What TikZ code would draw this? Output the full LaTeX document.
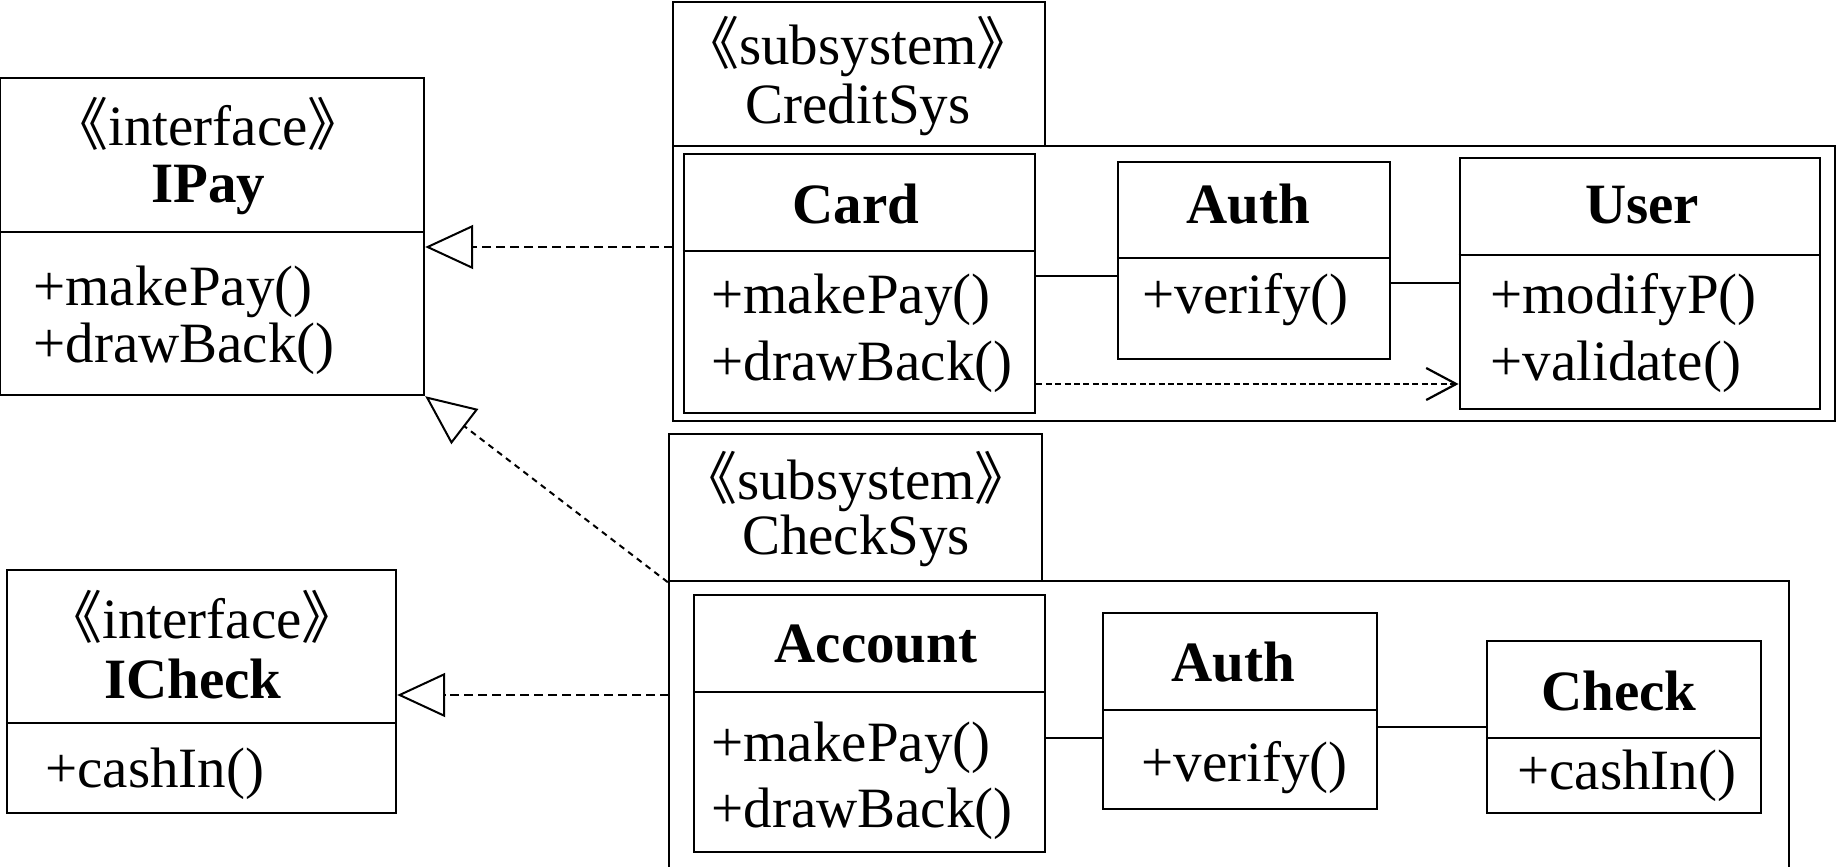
\documentclass[tikz,border=0pt]{standalone}
\usepackage{fontspec}
\setmainfont{Liberation Serif}
\newfontfamily\cjkfont{Noto Sans CJK SC}
\usetikzlibrary{arrows.meta,fit}
\newcommand{\stereo}[1]{{\cjkfont 《}#1{\cjkfont 》}}
\tikzset{
  box/.style={draw, line width=1.2pt, inner sep=0pt},
  boldbox/.style={draw, line width=1.45pt, inner sep=0pt},
  txt/.style={inner sep=0pt, font=\fontsize{28.5pt}{30pt}\selectfont},
  ttl/.style={txt, font=\fontsize{28.5pt}{30pt}\selectfont\bfseries},
  divider/.style={line width=1.2pt},
  assoc/.style={line width=1.2pt},
  realize/.style={line width=1pt, dash pattern=on 4.5pt off 2.5pt, -{Triangle[open, length=24pt, width=22pt]}},
  realizediag/.style={line width=1pt, dash pattern=on 3pt off 2.5pt, -{Triangle[open, length=25pt, width=22pt]}},
  depend/.style={line width=1.1pt, dash pattern=on 3pt off 1.7pt, -{Straight Barb[length=15pt, width=16pt]}}
}
\begin{document}
\begin{tikzpicture}[x=0.5pt,y=-0.5pt]
\clip (0,0) rectangle (1837,867);
\useasboundingbox (0,0) rectangle (1837,867);

% ---------- IPay ----------
\node[box, fit={(0,78) (424,395)}] (ipay) {};
\draw[divider] (ipay.west |- 0,232) -- (ipay.east |- 0,232);
\node[txt, anchor=base] (ipayst) at (208,145) {\stereo{interface}};
\node[ttl, anchor=base] (ipayname) at (208,202) {IPay};
\node[txt, anchor=base west] (ipaym1) at (33,305) {+makePay()};
\node[txt, anchor=base west] (ipaym2) at (33,362) {+drawBack()};

% ---------- ICheck ----------
\node[box, fit={(7,570) (396,813)}] (icheck) {};
\draw[divider] (icheck.west |- 0,723) -- (icheck.east |- 0,723);
\node[txt, anchor=base] (icheckst) at (202,638) {\stereo{interface}};
\node[ttl, anchor=base] (icheckname) at (193,698) {ICheck};
\node[txt, anchor=base west] (icheckm1) at (45,787) {+cashIn()};

% ---------- CreditSys ----------
\node[box, fit={(673,2) (1045,146)}] (credtab) {};
\node[boldbox, fit={(673,146) (1835,421)}] (credframe) {};
\node[txt, anchor=base] (credst) at (858,64) {\stereo{subsystem}};
\node[txt, anchor=base] (credname) at (858,123) {CreditSys};

\node[boldbox, fit={(684,154) (1035,413)}] (card) {};
\draw[divider] (card.west |- 0,251) -- (card.east |- 0,251);
\node[ttl, anchor=base] (cardname) at (856,223) {Card};
\node[txt, anchor=base west] (cardm1) at (711,313) {+makePay()};
\node[txt, anchor=base west] (cardm2) at (711,380) {+drawBack()};

\node[box, fit={(1118,162) (1390,359)}] (autha) {};
\draw[divider] (autha.west |- 0,258) -- (autha.east |- 0,258);
\node[ttl, anchor=base] (authaname) at (1248,223) {Auth};
\node[txt, anchor=base west] (autham1) at (1142,313) {+verify()};

\node[boldbox, fit={(1460,158) (1820,409)}] (user) {};
\draw[divider] (user.west |- 0,255) -- (user.east |- 0,255);
\node[ttl, anchor=base] (username) at (1642,223) {User};
\node[txt, anchor=base west] (userm1) at (1490,313) {+modifyP()};
\node[txt, anchor=base west] (userm2) at (1490,380) {+validate()};

% ---------- CheckSys ----------
\node[box, fit={(669,434) (1042,581)}] (checktab) {};
\node[box, fit={(669,581) (1789,900)}] (checkframe) {};
\node[txt, anchor=base] (checkst) at (856,499) {\stereo{subsystem}};
\node[txt, anchor=base] (checkname) at (856,554) {CheckSys};

\node[box, fit={(694,595) (1045,852)}] (account) {};
\draw[divider] (account.west |- 0,692) -- (account.east |- 0,692);
\node[ttl, anchor=base] (accountname) at (876,662) {Account};
\node[txt, anchor=base west] (accountm1) at (711,761) {+makePay()};
\node[txt, anchor=base west] (accountm2) at (711,827) {+drawBack()};

\node[box, fit={(1103,613) (1377,809)}] (authb) {};
\draw[divider] (authb.west |- 0,710) -- (authb.east |- 0,710);
\node[ttl, anchor=base] (authbname) at (1233,681) {Auth};
\node[txt, anchor=base west] (authbm1) at (1141,781) {+verify()};

\node[box, fit={(1487,641) (1761,813)}] (check) {};
\draw[divider] (check.west |- 0,738) -- (check.east |- 0,738);
\node[ttl, anchor=base] (checkclname) at (1619,710) {Check};
\node[txt, anchor=base west] (checkm1) at (1517,789) {+cashIn()};

% ---------- connectors ----------
\coordinate (credport) at (673,247);
\coordinate (checkport) at (669,695);
\draw[realize] (credport) -- (ipay.east |- credport);
\draw[realize] (checkport) -- (icheck.east |- checkport);
\draw[realizediag] (checktab.south west) -- (ipay.south east);

\draw[assoc] (card.east |- 0,276) -- (autha.west |- 0,276);
\draw[assoc] (autha.east |- 0,283) -- (user.west |- 0,283);
\draw[depend] (card.east |- 0,384) -- (user.west |- 0,384);

\draw[assoc] (account.east |- 0,738) -- (authb.west |- 0,738);
\draw[assoc] (authb.east |- 0,727) -- (check.west |- 0,727);
\end{tikzpicture}
\end{document}
